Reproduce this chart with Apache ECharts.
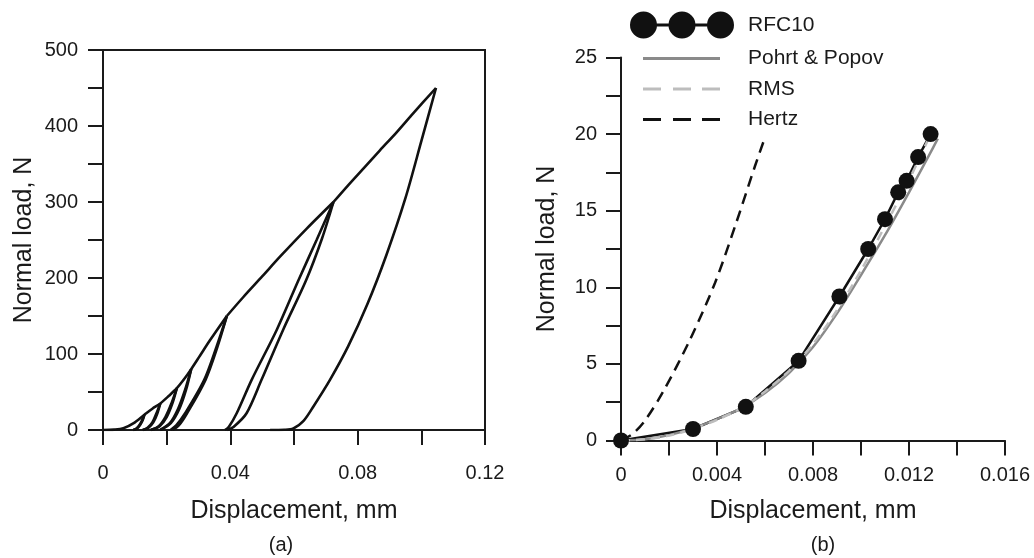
<!DOCTYPE html>
<html>
<head>
<meta charset="utf-8">
<script src="https://cdn.jsdelivr.net/npm/echarts@6/dist/echarts.min.js"></script>
<style>
html,body{margin:0;padding:0;background:#fff;}
#c{width:1034px;height:558px;}
</style>
</head>
<body>
<div id="c"></div>
<script>
// ---------- Panel (a): loading / unloading loops ----------
const xLabelsA = ['0', '0.04', '0.08', '0.12'];
const yLabelsA = ['0', '100', '200', '300', '400', '500'];

const envelope1 = [[0,0],[0.0035,0.5],[0.0064,2.2],[0.0095,8.6],[0.0130,20],[0.0155,28],[0.0180,35],[0.0207,45],[0.0232,55],[0.0255,67],[0.0277,80],[0.0305,98],[0.0336,118],[0.0389,150]];
const envelope2 = [[0.0389,150],[0.0441,175],[0.0500,202],[0.0556,228],[0.0640,265],[0.0724,300]];
const envelope3 = [[0.0724,300],[0.0770,322],[0.0820,345],[0.0870,368],[0.0923,392],[0.0975,417],[0.1046,450]];

const unload20  = [[0.0130,20],[0.0122,12],[0.0113,5.5],[0.0104,1.5],[0.0095,0]];
const reload20  = [[0.0095,0],[0.0107,2],[0.0117,7],[0.0125,13],[0.0130,20]];
const unload35  = [[0.0180,35],[0.0168,22],[0.0155,10],[0.0140,3],[0.0125,0]];
const reload35  = [[0.0125,0],[0.0143,3],[0.0158,10],[0.0170,21],[0.0180,35]];
const unload55  = [[0.0232,55],[0.0215,35],[0.0196,17],[0.0175,5],[0.0150,0]];
const reload55  = [[0.0150,0],[0.0178,5],[0.0200,17],[0.0218,35],[0.0232,55]];
const unload80  = [[0.0277,80],[0.0258,53],[0.0236,28],[0.0210,9],[0.0180,0]];
const reload80  = [[0.0180,0],[0.0213,9],[0.0240,28],[0.0261,53],[0.0277,80]];
const unload150 = [[0.0389,150],[0.0357,110],[0.0318,66],[0.0258,22],[0.0230,6],[0.0212,0]];
const reload150 = [[0.0218,0],[0.0238,6],[0.0264,22],[0.0322,66],[0.0360,110],[0.0389,150]];
const unload300 = [[0.0724,300],[0.0671,250],[0.0614,197],[0.0546,132],[0.0467,66],[0.0420,22],[0.0395,4],[0.0383,0]];
const reload300 = [[0.0390,0],[0.0410,4],[0.0451,22],[0.0498,66],[0.0566,132],[0.0638,197],[0.0688,252],[0.0724,300]];
const unload450 = [[0.1046,450],[0.1000,380],[0.0950,305],[0.0890,230],[0.0830,165],[0.0770,110],[0.0713,66],[0.0661,31],[0.0630,12],[0.0598,2],[0.0570,0.3],[0.0525,0]];

// ---------- Panel (b): RFC10 vs models ----------
const xLabelsB = ['0', '0.004', '0.008', '0.012', '0.016'];
const yLabelsB = ['0', '5', '10', '15', '20', '25'];

const rfc10 = [[0,0],[0.0030,0.75],[0.0052,2.2],[0.0074,5.2],[0.0091,9.4],[0.0103,12.5],[0.0110,14.45],[0.01155,16.2],[0.0119,16.95],[0.01238,18.5],[0.0129,20.0]];
const pohrtPopov = [[0,0],[0.001,0.08],[0.002,0.35],[0.003,0.8],[0.004,1.4],[0.005,2.1],[0.006,3.1],[0.007,4.4],[0.008,6.1],[0.009,8.3],[0.010,10.8],[0.011,13.4],[0.012,16.2],[0.013,19.1],[0.0132,19.7]];
const rms = [[0,0],[0.001,0.08],[0.002,0.32],[0.003,0.75],[0.004,1.35],[0.005,2.1],[0.006,3.2],[0.007,4.55],[0.008,6.3],[0.009,8.5],[0.010,11.1],[0.011,14.0],[0.012,17.0],[0.0129,20.0]];
const hertz = [[0,0],[0.0005,0.45],[0.001,1.3],[0.00176,3.2],[0.00288,6.6],[0.00392,10.3],[0.00482,14.3],[0.00558,17.9],[0.00598,19.7]];

const seriesNames = ['RFC10', 'Pohrt & Popov', 'RMS', 'Hertz'];
const panelLabels = ['(a)', '(b)'];
const axisTitleX = 'Displacement, mm';
const axisTitleY = 'Normal load, N';

// ---------- styling ----------
const FONT = 'Liberation Sans, Arial, Helvetica, sans-serif';
const INK = '#1a1a1a';

function axisCommon() {
  return {
    axisLine: { show: true, onZero: false, lineStyle: { color: INK, width: 2 } },
    axisTick: { show: true, inside: false, length: 15, lineStyle: { color: INK, width: 2 } },
    splitLine: { show: false },
    nameTextStyle: { fontFamily: FONT, fontSize: 25, color: INK },
  };
}
function labelFmt(step, labels) {
  return function (v) {
    const i = Math.round(v / step);
    return i % 2 === 0 ? (labels[i / 2] || '') : '';
  };
}

const loopCurves = [envelope1, envelope2, envelope3, unload20, reload20, unload35, reload35,
  unload55, reload55, unload80, reload80, unload150, reload150, unload300, reload300, unload450];

const seriesA = loopCurves.map(function (d) {
  return {
    type: 'line', xAxisIndex: 0, yAxisIndex: 0, data: d,
    showSymbol: false, symbol: 'none', smooth: 0.3,
    lineStyle: { color: '#111', width: 2.6 }, color: '#111',
    silent: true, animation: false
  };
});

const rfcIcon = 'path://M0,13.5A13.5,13.5 0 1 1 27,13.5A13.5,13.5 0 1 1 0,13.5Z' +
  'M26,12H39.5V15H26Z' +
  'M38.5,13.5A13.5,13.5 0 1 1 65.5,13.5A13.5,13.5 0 1 1 38.5,13.5Z' +
  'M64.5,12H78V15H64.5Z' +
  'M77,13.5A13.5,13.5 0 1 1 104,13.5A13.5,13.5 0 1 1 77,13.5Z';
const solidIcon = 'path://M0,0H77V3H0Z';
const dashIcon = 'path://M0,0H18V3H0Z M30,0H48V3H30Z M59,0H77V3H59Z';

const option = {
  backgroundColor: '#fff',
  animation: false,
  textStyle: { fontFamily: FONT, color: INK },
  grid: [
    { left: 103, top: 50, width: 382, height: 380, show: true, borderColor: INK, borderWidth: 2, backgroundColor: 'transparent' },
    { left: 621, top: 57.5, width: 384, height: 383 }
  ],
  xAxis: [
    Object.assign(axisCommon(), {
      type: 'value', gridIndex: 0, min: 0, max: 0.12, interval: 0.02,
      name: axisTitleX, nameLocation: 'middle', nameGap: 69,
      axisLabel: { margin: 33, fontFamily: FONT, fontSize: 20, color: INK, formatter: labelFmt(0.02, xLabelsA) }
    }),
    Object.assign(axisCommon(), {
      type: 'value', gridIndex: 1, min: 0, max: 0.016, interval: 0.002,
      name: axisTitleX, nameLocation: 'middle', nameGap: 58,
      axisLabel: { margin: 25, fontFamily: FONT, fontSize: 20, color: INK, formatter: labelFmt(0.002, xLabelsB) }
    })
  ],
  yAxis: [
    Object.assign(axisCommon(), {
      type: 'value', gridIndex: 0, min: 0, max: 500, interval: 50,
      name: axisTitleY, nameLocation: 'middle', nameGap: 66, nameRotate: 90,
      axisLabel: { margin: 25, fontFamily: FONT, fontSize: 20, color: INK, formatter: labelFmt(50, yLabelsA) }
    }),
    Object.assign(axisCommon(), {
      type: 'value', gridIndex: 1, min: 0, max: 25, interval: 2.5,
      name: axisTitleY, nameLocation: 'middle', nameGap: 61, nameRotate: 90,
      axisLabel: { margin: 24, fontFamily: FONT, fontSize: 20, color: INK, formatter: labelFmt(2.5, yLabelsB) }
    })
  ],
  legend: [
    {
      data: [{ name: seriesNames[0], icon: rfcIcon }],
      left: 630, top: 11.5, padding: 0, itemWidth: 104, itemHeight: 27, selectedMode: false,
      textStyle: { fontFamily: FONT, fontSize: 21, color: INK, lineHeight: 27, padding: [0, 0, 0, 9] }
    },
    {
      data: [
        { name: seriesNames[1], icon: solidIcon },
        { name: seriesNames[2], icon: dashIcon },
        { name: seriesNames[3], icon: dashIcon }
      ],
      orient: 'vertical', left: 643, top: 46.5, padding: 0, itemWidth: 77, itemHeight: 24, itemGap: 6.5, selectedMode: false,
      textStyle: { fontFamily: FONT, fontSize: 21, color: INK, lineHeight: 24, padding: [0, 0, 0, 23] }
    }
  ],
  graphic: [
    { type: 'text', x: 281, y: 545, style: { text: panelLabels[0], align: 'center', verticalAlign: 'middle', textAlign: 'center', textVerticalAlign: 'middle', font: '20px ' + FONT, fill: INK } },
    { type: 'text', x: 823, y: 545, style: { text: panelLabels[1], align: 'center', verticalAlign: 'middle', textAlign: 'center', textVerticalAlign: 'middle', font: '20px ' + FONT, fill: INK } }
  ],
  series: seriesA.concat([
    {
      name: seriesNames[0], type: 'line', xAxisIndex: 1, yAxisIndex: 1, data: rfc10,
      symbol: 'circle', symbolSize: 16, color: '#111',
      itemStyle: { color: '#111' }, lineStyle: { color: '#111', width: 2.5 }
    },
    {
      name: seriesNames[1], type: 'line', xAxisIndex: 1, yAxisIndex: 1, data: pohrtPopov,
      symbol: 'none', smooth: 0.3, color: '#8a8a8a',
      itemStyle: { color: '#8a8a8a' }, lineStyle: { color: '#8a8a8a', width: 2.5 }
    },
    {
      name: seriesNames[2], type: 'line', xAxisIndex: 1, yAxisIndex: 1, data: rms,
      symbol: 'none', smooth: 0.3, color: '#bdbdbd',
      itemStyle: { color: '#bdbdbd' }, lineStyle: { color: '#bdbdbd', width: 2.5, type: [9, 6] }
    },
    {
      name: seriesNames[3], type: 'line', xAxisIndex: 1, yAxisIndex: 1, data: hertz,
      symbol: 'none', smooth: 0.3, color: '#111',
      itemStyle: { color: '#111' }, lineStyle: { color: '#111', width: 2.5, type: [11, 7] }
    }
  ])
};

const chart = echarts.init(document.getElementById('c'), null, { renderer: 'canvas' });
chart.setOption(option);
</script>
</body>
</html>
